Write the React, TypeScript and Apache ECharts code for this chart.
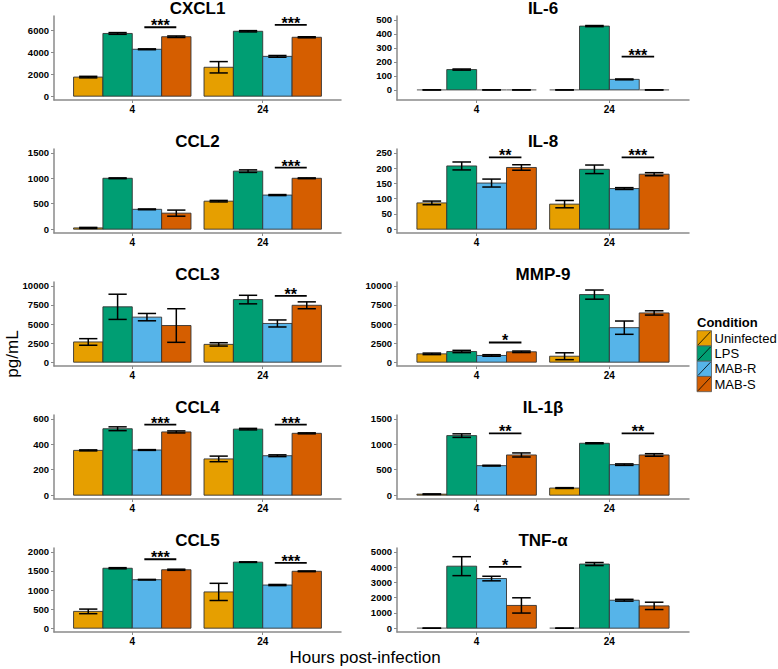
import React, { useEffect, useRef } from "react";
import * as echarts from "echarts";

// ---------- data ----------
const conditions = ["Uninfected", "LPS", "MAB-R", "MAB-S"];
const hours = ["4", "24"];
const colors = ["#E69F00", "#009E73", "#56B4E9", "#D55E00"];

// each: [4h values by condition], [24h values by condition]
const cxcl1Means = [[1750, 5750, 4300, 5450], [2650, 5950, 3650, 5400]];
const cxcl1Errs = [[70, 80, 40, 70], [520, 60, 80, 50]];
const cxcl1Ticks = [0, 2000, 4000, 6000];
const cxcl1Sig = [{ hour: 0, y: 6320, label: "***" }, { hour: 1, y: 6530, label: "***" }];

const il6Means = [[0, 145, 0, 0], [0, 455, 75, 0]];
const il6Errs = [[0, 4, 0, 0], [0, 4, 3, 0]];
const il6Ticks = [0, 100, 200, 300, 400, 500];
const il6Sig = [{ hour: 1, y: 238, label: "***" }];

const ccl2Means = [[25, 1000, 390, 315], [550, 1140, 670, 1000]];
const ccl2Errs = [[10, 8, 8, 60], [15, 25, 10, 8]];
const ccl2Ticks = [0, 500, 1000, 1500];
const ccl2Sig = [{ hour: 1, y: 1209, label: "***" }];

const il8Means = [[86, 207, 151, 202], [82, 196, 133, 180]];
const il8Errs = [[6, 13, 13, 9], [12, 14, 3, 5]];
const il8Ticks = [0, 50, 100, 150, 200, 250];
const il8Sig = [{ hour: 0, y: 235, label: "**" }, { hour: 1, y: 235, label: "***" }];

const ccl3Means = [[2650, 7250, 5900, 4800], [2330, 8200, 5070, 7450]];
const ccl3Errs = [[430, 1650, 480, 2200], [220, 560, 460, 450]];
const ccl3Ticks = [0, 2500, 5000, 7500, 10000];
const ccl3Sig = [{ hour: 1, y: 8680, label: "**" }];

const mmp9Means = [[1090, 1400, 880, 1360], [780, 8850, 4520, 6450]];
const mmp9Errs = [[100, 150, 100, 100], [450, 600, 870, 280]];
const mmp9Ticks = [0, 2500, 5000, 7500, 10000];
const mmp9Sig = [{ hour: 0, y: 2580, label: "*" }];

const ccl4Means = [[352, 522, 355, 497], [285, 519, 310, 486]];
const ccl4Errs = [[4, 15, 3, 8], [22, 6, 7, 4]];
const ccl4Ticks = [0, 200, 400, 600];
const ccl4Sig = [{ hour: 0, y: 555, label: "***" }, { hour: 1, y: 555, label: "***" }];

const il1bMeans = [[20, 1170, 580, 790], [140, 1020, 600, 790]];
const il1bErrs = [[5, 35, 8, 40], [8, 10, 15, 25]];
const il1bTicks = [0, 500, 1000, 1500];
const il1bSig = [{ hour: 0, y: 1216, label: "**" }, { hour: 1, y: 1216, label: "**" }];

const ccl5Means = [[440, 1570, 1270, 1530], [950, 1730, 1130, 1490]];
const ccl5Errs = [[60, 15, 8, 15], [225, 8, 15, 10]];
const ccl5Ticks = [0, 500, 1000, 1500, 2000];
const ccl5Sig = [{ hour: 0, y: 1805, label: "***" }, { hour: 1, y: 1710, label: "***" }];

const tnfMeans = [[0, 4060, 3250, 1490], [0, 4200, 1830, 1460]];
const tnfErrs = [[0, 620, 150, 500], [0, 100, 60, 240]];
const tnfTicks = [0, 1000, 2000, 3000, 4000, 5000];
const tnfSig = [{ hour: 0, y: 4020, label: "*" }];

// ---------- layout ----------
const FONT = "'Liberation Sans', Arial, Helvetica, sans-serif";
const COL_LEFT = [54, 397];
const COL_WIDTH = [287, 292];
const ROW_TOP = [16, 149, 282, 415, 548];
const PANEL_H = 84;
const BAR_W = 0.225;
const CAP_W = 0.14;
const AXIS_GRAY = "#8a8a8a";

type Sig = { hour: number; y: number; label: string };
type Panel = {
  title: string; col: number; row: number; min: number; max: number;
  means: number[][]; errs: number[][]; ticks: number[]; sig: Sig[];
};

const panels: Panel[] = [
  { title: "CXCL1", col: 0, row: 0, min: -350, max: 7350, means: cxcl1Means, errs: cxcl1Errs, ticks: cxcl1Ticks, sig: cxcl1Sig },
  { title: "IL-6", col: 1, row: 0, min: -72, max: 527, means: il6Means, errs: il6Errs, ticks: il6Ticks, sig: il6Sig },
  { title: "CCL2", col: 0, row: 1, min: -75, max: 1575, means: ccl2Means, errs: ccl2Errs, ticks: ccl2Ticks, sig: ccl2Sig },
  { title: "IL-8", col: 1, row: 1, min: -12.5, max: 262.5, means: il8Means, errs: il8Errs, ticks: il8Ticks, sig: il8Sig },
  { title: "CCL3", col: 0, row: 2, min: -500, max: 10500, means: ccl3Means, errs: ccl3Errs, ticks: ccl3Ticks, sig: ccl3Sig },
  { title: "MMP-9", col: 1, row: 2, min: -500, max: 10500, means: mmp9Means, errs: mmp9Errs, ticks: mmp9Ticks, sig: mmp9Sig },
  { title: "CCL4", col: 0, row: 3, min: -30, max: 630, means: ccl4Means, errs: ccl4Errs, ticks: ccl4Ticks, sig: ccl4Sig },
  { title: "IL-1β", col: 1, row: 3, min: -75, max: 1575, means: il1bMeans, errs: il1bErrs, ticks: il1bTicks, sig: il1bSig },
  { title: "CCL5", col: 0, row: 4, min: -100, max: 2100, means: ccl5Means, errs: ccl5Errs, ticks: ccl5Ticks, sig: ccl5Sig },
  { title: "TNF-α", col: 1, row: 4, min: -250, max: 5250, means: tnfMeans, errs: tnfErrs, ticks: tnfTicks, sig: tnfSig },
];

function buildOption() {
  const grid: any[] = [];
  const xAxis: any[] = [];
  const yAxis: any[] = [];
  const series: any[] = [];
  const graphic: any[] = [];

  panels.forEach((p, i) => {
    const left = COL_LEFT[p.col];
    const width = COL_WIDTH[p.col];
    const top = ROW_TOP[p.row];
    grid.push({ left, top, width, height: PANEL_H, containLabel: false, outerBoundsMode: "none" });
    xAxis.push({
      type: "value", gridIndex: i, min: 0.4, max: 2.6,
      axisLine: { show: true, onZero: false, lineStyle: { color: AXIS_GRAY, width: 1.5 } },
      axisTick: { show: true, length: 3, customValues: [1, 2], lineStyle: { color: AXIS_GRAY, width: 1 } },
      axisLabel: {
        show: true, customValues: [1, 2], margin: 4,
        formatter: (v: number) => hours[Math.round(v) - 1] ?? "",
        color: "#000", fontFamily: FONT, fontWeight: "bold", fontSize: 10,
      },
      splitLine: { show: false },
    });
    yAxis.push({
      type: "value", gridIndex: i, min: p.min, max: p.max,
      axisLine: { show: true, onZero: false, lineStyle: { color: AXIS_GRAY, width: 1.5 } },
      axisTick: { show: true, length: 3, customValues: p.ticks, lineStyle: { color: AXIS_GRAY, width: 1 } },
      axisLabel: {
        show: true, customValues: p.ticks, margin: 5,
        formatter: (v: number) => String(v),
        color: "#000", fontFamily: FONT, fontWeight: "bold", fontSize: 9.5,
      },
      splitLine: { show: false },
    });

    const barData: number[][] = [];
    p.means.forEach((row, h) => row.forEach((m, k) => barData.push([h, k, m, p.errs[h][k]])));
    series.push({
      type: "custom", xAxisIndex: i, yAxisIndex: i, encode: { x: 0, y: 2 }, clip: false,
      data: barData,
      renderItem: (_params: any, api: any) => {
        const h = api.value(0);
        const k = api.value(1);
        const m = api.value(2);
        const e = api.value(3);
        const xc = h + 1 + (k - 1.5) * BAR_W;
        const tl = api.coord([xc - BAR_W / 2, m]);
        const br = api.coord([xc + BAR_W / 2, 0]);
        const et = api.coord([xc, m + e]);
        const eb = api.coord([xc, m - e]);
        const cl = api.coord([xc - CAP_W / 2, m])[0];
        const cr = api.coord([xc + CAP_W / 2, m])[0];
        const errStyle = { stroke: "#000", lineWidth: 1.5 };
        return {
          type: "group",
          children: [
            { type: "rect", shape: { x: tl[0], y: tl[1], width: br[0] - tl[0], height: br[1] - tl[1] },
              style: { fill: colors[k], stroke: m === 0 ? "#777" : "#333", lineWidth: m === 0 ? 1.2 : 0.9 } },
            { type: "line", shape: { x1: et[0], y1: et[1], x2: eb[0], y2: eb[1] }, style: errStyle },
            { type: "line", shape: { x1: cl, y1: et[1], x2: cr, y2: et[1] }, style: errStyle },
            { type: "line", shape: { x1: cl, y1: eb[1], x2: cr, y2: eb[1] }, style: errStyle },
          ],
        };
      },
    });

    const sigData = p.sig.map((s) => [s.hour, s.y]);
    const labels = p.sig.map((s) => s.label);
    series.push({
      type: "custom", xAxisIndex: i, yAxisIndex: i, encode: { x: 0, y: 1 }, clip: false,
      data: sigData,
      renderItem: (params: any, api: any) => {
        const h = api.value(0);
        const y = api.value(1);
        const c = h + 1;
        const a = api.coord([c + 0.5 * BAR_W - 0.02, y]);
        const b = api.coord([c + 1.5 * BAR_W, y]);
        return {
          type: "group",
          children: [
            { type: "line", shape: { x1: a[0], y1: a[1], x2: b[0], y2: b[1] }, style: { stroke: "#000", lineWidth: 1.8 } },
            { type: "text", style: { text: labels[params.dataIndex], x: (a[0] + b[0]) / 2, y: a[1] - 1.5,
              align: "center", verticalAlign: "middle", fill: "#000", font: `bold 16px ${FONT}` } },
          ],
        };
      },
    });

    graphic.push({
      type: "text", left: "auto", x: left + width / 2, y: top - 8,
      style: { text: p.title, align: "center", verticalAlign: "middle", fill: "#000", font: `bold 17px ${FONT}` },
    });
  });

  // axis titles
  graphic.push({
    type: "text", x: 12, y: 354, rotation: Math.PI / 2,
    style: { text: "pg/mL", align: "center", verticalAlign: "middle", fill: "#000", font: `17px ${FONT}` },
  });
  graphic.push({
    type: "text", x: 365, y: 657,
    style: { text: "Hours post-infection", align: "center", verticalAlign: "middle", fill: "#000", font: `17px ${FONT}` },
  });

  // legend
  const LX = 697, LY = 330.7, KW = 14.5, KH = 15.25;
  graphic.push({
    type: "text", x: LX, y: 322.7,
    style: { text: "Condition", align: "left", verticalAlign: "middle", fill: "#000", font: `bold 13px ${FONT}` },
  });
  conditions.forEach((name, k) => {
    const y = LY + k * KH;
    graphic.push({ type: "rect", shape: { x: LX, y, width: KW, height: KH }, style: { fill: colors[k], stroke: "#555", lineWidth: 0.8 } });
    graphic.push({ type: "line", shape: { x1: LX + 1, y1: y + KH - 1, x2: LX + KW - 1, y2: y + 1 }, style: { stroke: "#000", lineWidth: 0.8 } });
    graphic.push({
      type: "text", x: LX + KW + 3, y: y + KH / 2,
      style: { text: name, align: "left", verticalAlign: "middle", fill: "#000", font: `13px ${FONT}` },
    });
  });

  return {
    animation: false,
    backgroundColor: "#ffffff",
    textStyle: { fontFamily: FONT },
    grid, xAxis, yAxis, series, graphic,
  };
}

export default function App() {
  const ref = useRef<HTMLDivElement>(null);
  useEffect(() => {
    if (!ref.current) return;
    const chart = echarts.init(ref.current, undefined, { renderer: "svg" });
    chart.setOption(buildOption() as any);
    return () => chart.dispose();
  }, []);
  return (
    <div
      ref={ref}
      style={{ position: "fixed", left: 0, top: 0, width: 778, height: 669, background: "#fff" }}
    />
  );
}
